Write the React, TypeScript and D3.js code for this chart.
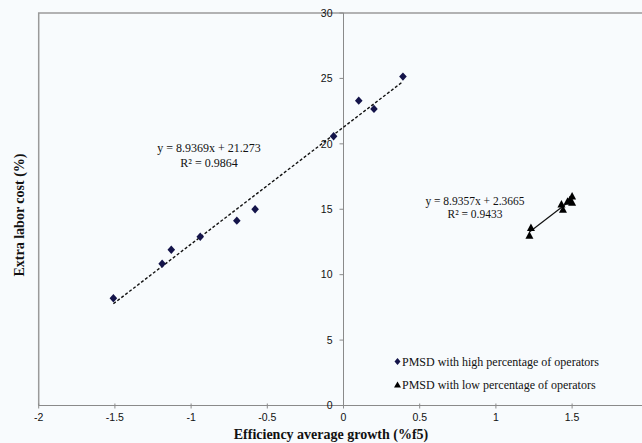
import React from "react";
import * as d3 from "d3";

const highX = [-1.51, -1.19, -1.13, -0.94, -0.7, -0.58, -0.065, 0.1, 0.2, 0.39];
const highY = [8.2, 10.84, 11.91, 12.9, 14.13, 15.0, 20.58, 23.3, 22.67, 25.14];
const lowX = [1.22, 1.23, 1.43, 1.44, 1.47, 1.485, 1.5, 1.5];
const lowY = [12.97, 13.56, 15.37, 14.96, 15.57, 15.68, 15.5, 15.98];
const highFit = { slope: 8.9369, intercept: 21.273 };
const lowFit = { slope: 8.9357, intercept: 2.3665 };
const xTicks = [-2, -1.5, -1, -0.5, 0, 0.5, 1, 1.5];
const yTicks = [0, 5, 10, 15, 20, 25, 30];
const highLabel = ["y = 8.9369x + 21.273", "R² = 0.9864"];
const lowLabel = ["y = 8.9357x + 2.3665", "R² = 0.9433"];
const legendLabels = ["PMSD with high percentage of operators", "PMSD with low percentage of operators"];

const W = 642, H = 443;

export default function App() {
  const x = d3.scaleLinear().domain([-2, 2]).range([38.7, 648.3]);
  const y = d3.scaleLinear().domain([0, 30]).range([405.5, 13]);
  const x0 = x(0), y0 = y(0);
  const serif = "'Liberation Serif', 'Times New Roman', serif";
  const sans = "'Liberation Sans', Arial, sans-serif";
  const diamond = "M0,-4.2L3.8,0L0,4.2L-3.8,0Z";
  const tri = "M0,-4.5L4,3L-4,3Z";
  const hx = d3.extent(highX) as [number, number];
  const lx = d3.extent(lowX) as [number, number];
  const fitLine = (ext: [number, number], f: { slope: number; intercept: number }) =>
    d3.line<[number, number]>().x((d) => x(d[0])).y((d) => y(d[1]))(
      ext.map((v) => [v, f.slope * v + f.intercept]) as [number, number][]
    ) || "";
  return (
    <svg width={W} height={H} style={{ position: "absolute", left: 0, top: 0, background: "#f8fbfd" }}>
      <rect x={0} y={0} width={W} height={H} fill="#f8fbfd" />
      {/* plot frame */}
      <path d={`M${x(-2)},${y0}V${y(30)}H${W}`} fill="none" stroke="#9a9a9a" strokeWidth={1.5} />
      <line x1={x(-2)} x2={W} y1={y0} y2={y0} stroke="#8a8a8a" strokeWidth={1.2} />
      <line x1={x0} x2={x0} y1={y(0)} y2={y(30)} stroke="#8a8a8a" strokeWidth={1} />
      {/* x ticks */}
      {xTicks.map((t) => (
        <g key={"xt" + t}>
          <line x1={x(t)} x2={x(t)} y1={y0 - 2} y2={y0 + 3} stroke="#8a8a8a" strokeWidth={1} />
          <text x={x(t)} y={y0 + 15} fontFamily={sans} fontSize={10.5} textAnchor="middle" fill="#111">
            {t}
          </text>
        </g>
      ))}
      {/* y ticks */}
      {yTicks.map((t) => (
        <g key={"yt" + t}>
          <line x1={x0 - 4} x2={x0} y1={y(t)} y2={y(t)} stroke="#8a8a8a" strokeWidth={1} />
          <text x={x0 - 11} y={y(t) + 3.8} fontFamily={sans} fontSize={10.5} textAnchor="end" fill="#111">
            {t}
          </text>
        </g>
      ))}
      {/* trend lines */}
      <path d={fitLine(hx, highFit)} fill="none" stroke="#111" strokeWidth={1.4} strokeDasharray="3,2" />
      <path d={fitLine(lx, lowFit)} fill="none" stroke="#111" strokeWidth={1.2} />
      {/* points */}
      {highX.map((v, i) => (
        <path key={"h" + i} d={diamond} transform={`translate(${x(v)},${y(highY[i])})`} fill="#14144a" />
      ))}
      {lowX.map((v, i) => (
        <path key={"l" + i} d={tri} transform={`translate(${x(v)},${y(lowY[i])})`} fill="#000" />
      ))}
      {/* equations */}
      {highLabel.map((s, i) => (
        <text key={"hl" + i} x={209} y={152 + i * 14.5} fontFamily={serif} fontSize={12} textAnchor="middle" fill="#111">
          {s}
        </text>
      ))}
      {lowLabel.map((s, i) => (
        <text key={"ll" + i} x={475} y={205 + i * 12.5} fontFamily={serif} fontSize={11.5} textAnchor="middle" fill="#111">
          {s}
        </text>
      ))}
      {/* legend */}
      <path d="M0,-3.5L3,0L0,3.5L-3,0Z" transform="translate(397.5,361.5)" fill="#14144a" />
      <text x={402} y={365.5} fontFamily={serif} fontSize={12} fill="#111">{legendLabels[0]}</text>
      <path d="M0,-3.5L3.5,2.5L-3.5,2.5Z" transform="translate(397.5,385)" fill="#000" />
      <text x={402} y={389} fontFamily={serif} fontSize={12} fill="#111">{legendLabels[1]}</text>
      {/* axis titles */}
      <text x={331} y={439} fontFamily={serif} fontSize={14} fontWeight="bold" textAnchor="middle" fill="#111">
        Efficiency average growth (%f5)
      </text>
      <text transform="translate(24,215) rotate(-90)" fontFamily={serif} fontSize={14} fontWeight="bold" textAnchor="middle" fill="#111">
        Extra labor cost (%)
      </text>
    </svg>
  );
}
